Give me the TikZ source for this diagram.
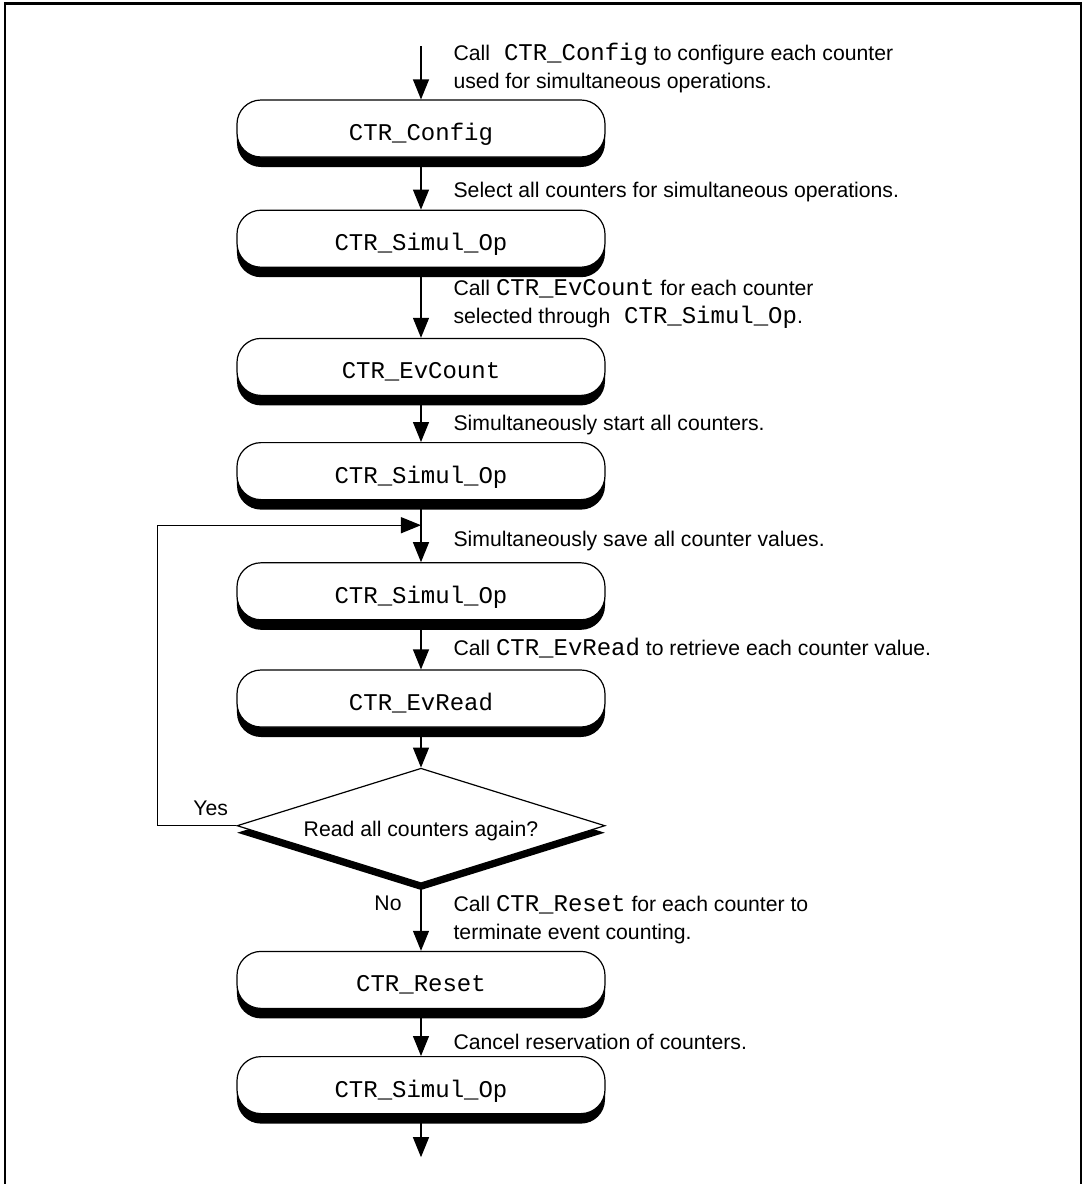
\documentclass[tikz,border=0pt]{standalone}
\usepackage{fontspec}
\setmainfont{Liberation Sans}
\setmonofont{Liberation Mono}
\usepackage{tikz}
\usetikzlibrary{shapes.geometric, arrows.meta, positioning, shadows}
\newcommand{\code}[1]{{\fontsize{12}{14}\selectfont\ttfamily #1}}

\begin{document}
\begin{tikzpicture}[
    node distance=24pt,
    func/.style={rectangle, draw, line width=0.6pt, rounded corners=12pt, minimum width=184pt, minimum height=28.5pt, inner sep=0pt, text height=12pt, text depth=0pt, fill=white, font=\fontsize{12}{14}\selectfont\ttfamily, drop shadow={shadow xshift=0pt, shadow yshift=-5pt, opacity=1, fill=black}},
    test/.style={diamond, draw, line width=0.6pt, shape aspect=3.2, minimum width=184pt, minimum height=57.5pt, inner sep=0pt, text height=11pt, text depth=0pt, fill=white, font=\fontsize{10.6}{14}\selectfont, drop shadow={shadow xshift=0pt, shadow yshift=-3.5pt, opacity=1, fill=black}},
    note/.style={inner sep=0pt, align=left, font=\fontsize{10.6}{14}\selectfont},
    arrow/.style={-{Triangle[length=10pt, width=8pt]}, line width=0.6pt}
]
    \useasboundingbox (-210.5pt,-527.75pt) rectangle (332pt,64.25pt);
    \draw[line width=1pt] (-208pt,-527.75pt) -- (-208pt,62.5pt);
    \draw[line width=1pt] (330pt,-527.75pt) -- (330pt,62.5pt);
    \draw[line width=1.6pt] (-208.5pt,62.5pt) -- (330.5pt,62.5pt);

    \node[func] (cfg) {CTR\_Config};
    \node[func, below=26pt of cfg] (sel) {CTR\_Simul\_Op};
    \node[func, below=35pt of sel] (evc) {CTR\_EvCount};
    \node[func, below=23pt of evc] (go) {CTR\_Simul\_Op};
    \node[func, below=31pt of go] (save) {CTR\_Simul\_Op};
    \node[func, below=24.5pt of save] (rd) {CTR\_EvRead};
    \node[test, below=20pt of rd] (again) {Read all counters again?};
    \node[func, below=33.5pt of again] (rst) {CTR\_Reset};
    \node[func, below=23.5pt of rst] (free) {CTR\_Simul\_Op};

    \coordinate[above=26.5pt of cfg] (in);
    \coordinate[below=21.5pt of free] (out);
    \coordinate[below=12.5pt of go] (back);

    \draw[arrow] (in) -- (cfg) node[note, midway, right=16pt, yshift=2.5pt] {Call\hspace{4pt} \code{CTR\_Config} to configure each counter\\used for simultaneous operations.};
    \draw[arrow] (cfg) -- (sel) node[note, midway, right=16pt, yshift=-4pt] {Select all counters for simultaneous operations.};
    \draw[arrow] (sel) -- (evc) node[note, midway, right=16pt, yshift=-0.5pt] {Call \code{CTR\_EvCount} for each counter\\selected through\hspace{4pt} \code{CTR\_Simul\_Op}.};
    \draw[arrow] (evc) -- (go) node[note, midway, right=16pt, yshift=-3pt] {Simultaneously start all counters.};
    \draw[arrow] (go) -- (save) node[note, midway, right=16pt, yshift=-5pt] {Simultaneously save all counter values.};
    \draw[arrow] (save) -- (rd) node[note, midway, right=16pt, yshift=-1.5pt] {Call \code{CTR\_EvRead} to retrieve each counter value.};
    \draw[arrow] (rd) -- (again);
    \draw[arrow] (again) -- (rst) node[note, midway, right=16pt, yshift=-1pt] {Call \code{CTR\_Reset} for each counter to\\terminate event counting.};
    \draw[arrow] (rst) -- (free) node[note, midway, right=16pt, yshift=-4.5pt] {Cancel reservation of counters.};
    \draw[arrow] (free) -- (out);

    % loop back for another read
    \draw[arrow] (again.west) -- ++(-39.5pt,0) |- (back);
    \node[note, above left=5pt and 4pt of again.west] (yes) {Yes};
    \node[note, below left=6pt and 9.5pt of again.south] (no) {No};
\end{tikzpicture}
\end{document}
